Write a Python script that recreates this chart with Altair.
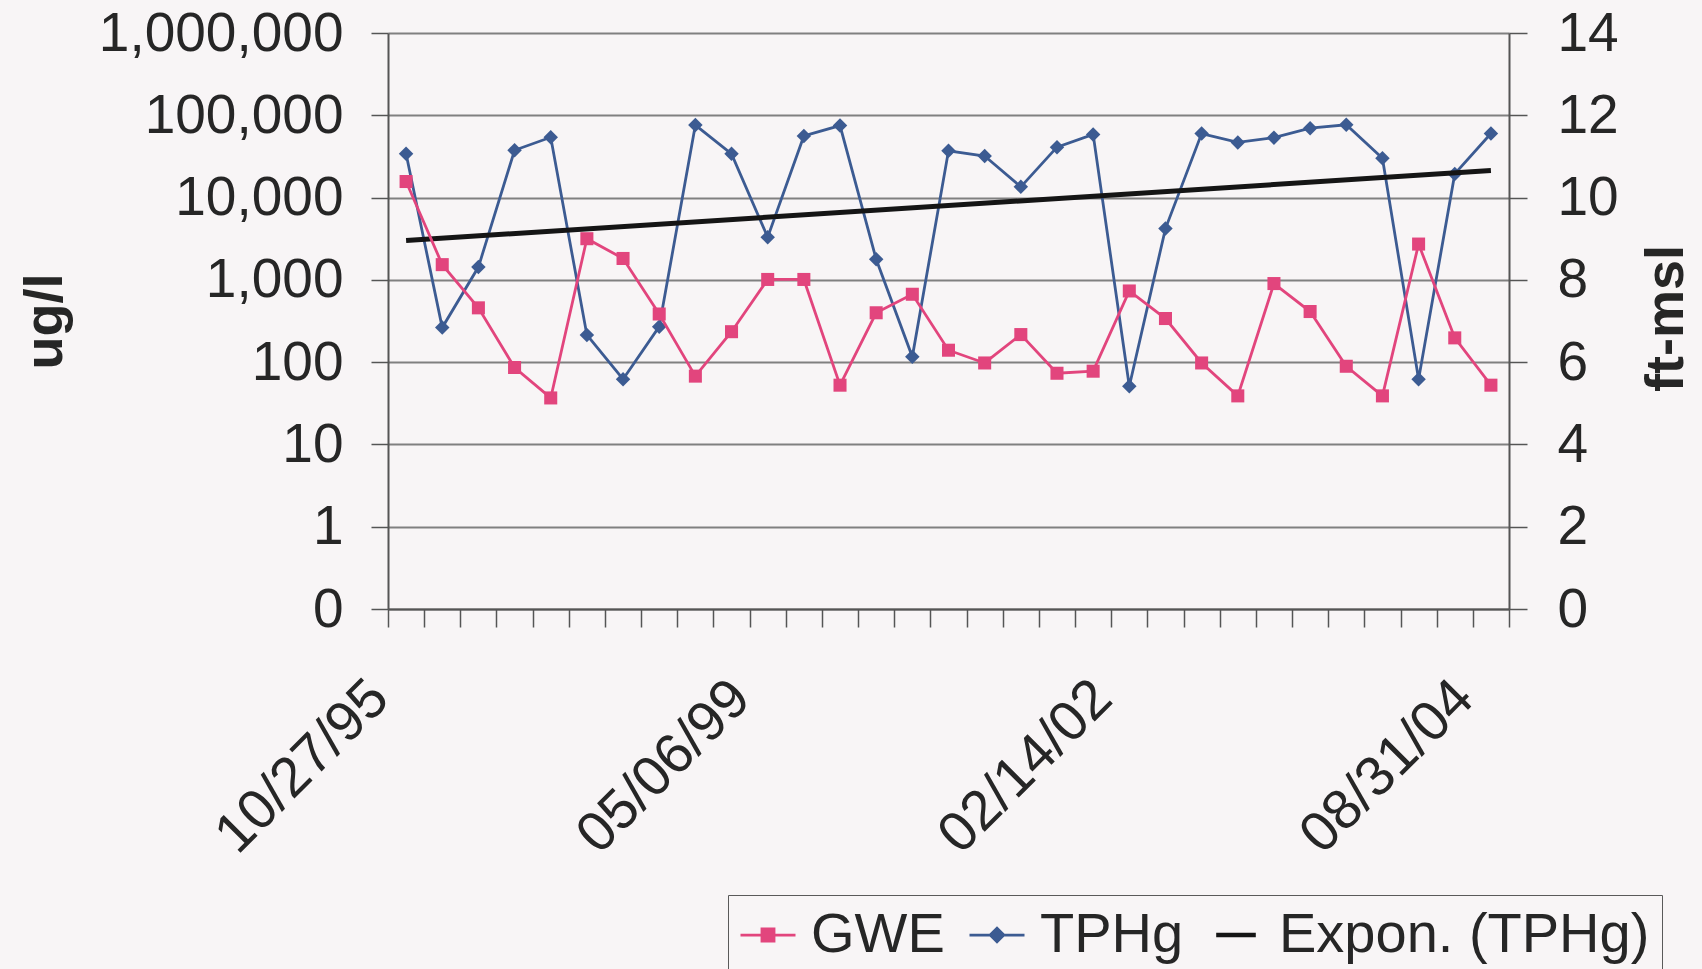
import altair as alt
import pandas as pd

# ---------------- data ----------------
category_index = list(range(31))
tphg = [34000, 263, 1430, 37600, 54000, 214, 62, 270, 76000, 34000,
        3300, 56000, 75000, 1780, 116, 37000, 32000, 13500, 41000, 58600,
        51, 4200, 60000, 46800, 53500, 69700, 76700, 30000, 62, 19400,
        60000]
gwe = [10.39, 8.37, 7.32, 5.87, 5.13, 9.0, 8.52, 7.17, 5.66, 6.74,
       8.01, 8.01, 5.44, 7.2, 7.65, 6.29, 5.98, 6.67, 5.73, 5.78,
       7.73, 7.06, 5.98, 5.18, 7.91, 7.23, 5.9, 5.18, 8.87, 6.59,
       5.44]
label_index = [0, 10, 20, 30]
label_text = ["10/27/95", "05/06/99", "02/14/02", "08/31/04"]
left_ticks = [0.1, 1, 10, 100, 1000, 10000, 100000, 1000000]
right_ticks = [0, 2, 4, 6, 8, 10, 12, 14]
series_names = ["GWE", "TPHg", "Expon. (TPHg)"]

# ---------------- styling ----------------
PINK = "#E2457D"
BLUE = "#3C5B92"
BLACK = "#151515"
BG = "#F8F5F6"
TXT = "#262626"
GRID = "#808080"
AXIS = "#555555"
FONT = "Liberation Sans"
W, H = 1121, 576
PAD = {"left": 388, "top": 33, "right": 1702 - 388 - W, "bottom": 969 - 33 - H}

df = pd.DataFrame({"i": category_index, "TPHg": tphg, "GWE": gwe})
legend_df = pd.DataFrame({"series": series_names})

boundary_values = [i - 0.5 for i in range(32)]
label_expr = " : ".join(
    f"round(datum.value + 0.5) == {i} ? '{t}'" for i, t in zip(label_index, label_text)
) + " : ''"

x_enc = alt.X(
    "i:Q",
    scale=alt.Scale(domain=[-0.5, 30.5], nice=False, zero=False),
    axis=alt.Axis(
        orient="bottom",
        values=boundary_values,
        labelExpr=label_expr,
        labelAngle=315,
        labelAlign="right",
        labelBaseline="middle",
        labelOffset=-9,
        labelPadding=62,
        labelFontSize=56,
        labelFont=FONT,
        labelColor=TXT,
        labelLimit=1000,
        labelOverlap=False,
        labelFlush=False,
        labelBound=False,
        tickSize=18,
        tickColor=AXIS,
        tickWidth=1.5,
        domainColor=AXIS,
        domainWidth=2,
        grid=False,
        title=None,
    ),
)

legend = alt.Legend(
    orient="none",
    legendX=340,
    legendY=862,
    direction="horizontal",
    title=None,
    labelFont=FONT,
    labelFontSize=56,
    labelColor=TXT,
    labelLimit=1000,
    labelOffset=15,
    columnPadding=24,
    padding=12,
    symbolSize=3025,
    symbolOpacity=1,
    symbolStrokeWidth=0,
    strokeColor="#5a5a5a",
    fillColor=BG,
)

series_colors = alt.Scale(domain=series_names, range=[PINK, BLUE, BLACK])
series_shapes = alt.Scale(
    domain=series_names,
    range=[
        "M-1,-0.05H1V0.05H-1ZM-0.27,-0.27H0.27V0.27H-0.27Z",
        "M-1,-0.05H1V0.05H-1ZM0,-0.32L0.32,0L0,0.32L-0.32,0Z",
        "M-0.72,-0.08H0.72V0.08H-0.72Z",
    ],
)

left_scale = alt.Scale(type="log", domain=[0.1, 1000000], nice=False)

left_axis = alt.Axis(
    orient="left",
    values=left_ticks,
    format=",.0f",
    labelFont=FONT,
    labelFontSize=55,
    labelColor=TXT,
    labelLimit=1000,
    labelPadding=28,
    tickSize=17,
    tickColor=AXIS,
    tickWidth=1.5,
    domainColor=AXIS,
    domainWidth=2,
    grid=True,
    gridColor=GRID,
    gridWidth=2,
    title="ug/l",
    titleFont=FONT,
    titleFontSize=54,
    titleFontWeight="bold",
    titleColor=TXT,
    titleAngle=270,
    titleAlign="center",
    titleBaseline="middle",
    titleX=45 - 388,
    titleY=288,
)

right_axis = alt.Axis(
    orient="right",
    values=right_ticks,
    labelFont=FONT,
    labelFontSize=55,
    labelColor=TXT,
    labelLimit=1000,
    labelPadding=30,
    tickSize=18,
    tickColor=AXIS,
    tickWidth=1.5,
    domainColor=AXIS,
    domainWidth=2,
    grid=False,
    title="ft-msl",
    titleFont=FONT,
    titleFontSize=54,
    titleFontWeight="bold",
    titleColor=TXT,
    titleAngle=270,
    titleAlign="center",
    titleBaseline="middle",
    titleX=1666 - 388 - W,
    titleY=285,
)

base = alt.Chart(df)

tphg_layer = base.mark_line(
    strokeWidth=2.8,
    color=BLUE,
    point=alt.OverlayMarkDef(shape="diamond", size=210, filled=True, opacity=1, color=BLUE),
).encode(
    x=x_enc,
    y=alt.Y("TPHg:Q", scale=left_scale, axis=left_axis),
)

trend_layer = (
    base.transform_calculate(lv="log(datum.TPHg) / LN10")
    .transform_regression("i", "lv", method="linear")
    .transform_calculate(v="pow(10, datum.lv)")
    .mark_line(strokeWidth=5, color=BLACK)
    .encode(
        x=x_enc,
        y=alt.Y("v:Q", scale=left_scale, axis=left_axis),
    )
)

gwe_layer = base.mark_line(
    strokeWidth=2.8,
    color=PINK,
    point=alt.OverlayMarkDef(shape="square", size=170, filled=True, opacity=1, color=PINK),
).encode(
    x=x_enc,
    y=alt.Y("GWE:Q", scale=alt.Scale(domain=[0, 14], nice=False, zero=True), axis=right_axis),
)

legend_layer = alt.Chart(legend_df).mark_point(opacity=0, filled=True).encode(
    x=alt.value(0),
    y=alt.value(0),
    color=alt.Color("series:N", scale=series_colors, legend=legend),
    shape=alt.Shape("series:N", scale=series_shapes, legend=legend),
)

right = alt.layer(gwe_layer, legend_layer)
left = alt.layer(tphg_layer, trend_layer)
chart = (
    alt.layer(left, right)
    .resolve_scale(y="independent")
    .properties(
        width=W,
        height=H,
        padding=PAD,
        autosize=alt.AutoSizeParams(type="none"),
        background=BG,
    )
    .configure_view(stroke=None, fill=BG)
)

chart.save("out.html", embed_options={"renderer": "svg", "actions": False})
